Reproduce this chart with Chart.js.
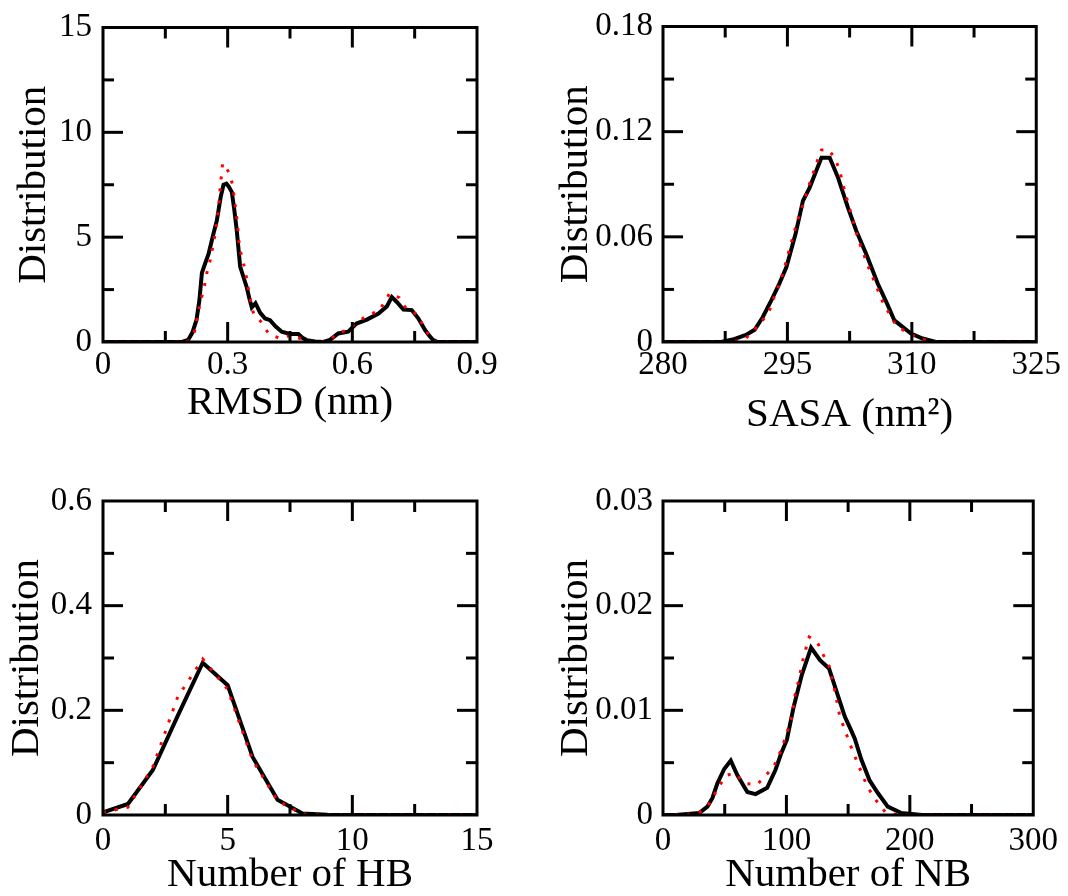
<!DOCTYPE html>
<html>
<head>
<meta charset="utf-8">
<script src="https://cdn.jsdelivr.net/npm/chart.js@4.4.1/dist/chart.umd.min.js"></script>
<style>
  body { margin: 0; background: #fff; }
  #wrap { position: relative; width: 1068px; height: 896px; background: #fff; }
  canvas { position: absolute; }
</style>
</head>
<body>
<div id="wrap">
  <canvas id="rmsdChart" width="534" height="448" style="left:0;top:0"></canvas>
  <canvas id="sasaChart" width="534" height="448" style="left:534px;top:0"></canvas>
  <canvas id="hbChart" width="534" height="448" style="left:0;top:448px"></canvas>
  <canvas id="nbChart" width="534" height="448" style="left:534px;top:448px"></canvas>
</div>
<script>
// RMSD (nm) distribution, black solid + red dotted
const rmsdBlackX = [0, 0.19, 0.205, 0.215, 0.225, 0.232, 0.238, 0.245, 0.254, 0.265, 0.274, 0.283, 0.29, 0.297, 0.303, 0.31, 0.316, 0.322, 0.33, 0.338, 0.346, 0.352, 0.358, 0.367, 0.378, 0.39, 0.402, 0.415, 0.43, 0.45, 0.47, 0.48, 0.49, 0.51, 0.53, 0.546, 0.566, 0.59, 0.61, 0.635, 0.663, 0.683, 0.695, 0.707, 0.723, 0.743, 0.759, 0.775, 0.787, 0.795, 0.805, 0.9];
const rmsdBlackY = [0, 0, 0.1, 0.45, 1.05, 2.0, 3.3, 3.7, 4.2, 5.1, 5.8, 6.9, 7.5, 7.55, 7.4, 7.15, 6.3, 5.3, 3.6, 3.1, 2.6, 2.1, 1.65, 1.85, 1.4, 1.12, 1.04, 0.75, 0.49, 0.38, 0.38, 0.2, 0.09, 0.02, 0, 0.1, 0.41, 0.49, 0.88, 1.07, 1.36, 1.7, 2.14, 1.91, 1.55, 1.52, 1.12, 0.57, 0.25, 0.09, 0, 0];
const rmsdRedX = [0, 0.2, 0.21, 0.219, 0.225, 0.232, 0.244, 0.25, 0.258, 0.27, 0.278, 0.282, 0.288, 0.296, 0.303, 0.312, 0.319, 0.323, 0.328, 0.334, 0.342, 0.347, 0.352, 0.358, 0.363, 0.382, 0.399, 0.426, 0.454, 0.48, 0.5, 0.54, 0.566, 0.586, 0.61, 0.636, 0.664, 0.69, 0.713, 0.731, 0.755, 0.771, 0.789, 0.8, 0.9];
const rmsdRedY = [0, 0, 0.1, 0.38, 1.0, 1.7, 2.67, 3.3, 3.9, 5.17, 6.36, 7.38, 8.53, 8.3, 8.09, 7.5, 6.36, 5.77, 4.59, 4.04, 3.44, 2.85, 2.27, 1.67, 1.31, 0.93, 0.38, 0.17, 0.33, 0.12, 0, 0, 0.46, 0.54, 0.9, 1.28, 1.47, 2.33, 2.11, 1.55, 1.33, 0.76, 0.17, 0, 0];

// SASA (nm^2) distribution
const sasaBlackX = [280, 287, 288.4, 290, 291.05, 292, 293.06, 294, 294.87, 296, 296.87, 297.68, 298.5, 299.1, 300.1, 301.1, 302.3, 303.3, 304.5, 305.9, 307.0, 307.9, 309.9, 311.3, 312.9, 325];
const sasaBlackY = [0, 0, 0.0014, 0.004, 0.007, 0.014, 0.0237, 0.033, 0.0426, 0.062, 0.0805, 0.0881, 0.098, 0.1051, 0.1051, 0.0938, 0.0767, 0.0635, 0.0502, 0.0332, 0.022, 0.0123, 0.0048, 0.002, 0, 0];
const sasaRedX = [280, 288, 289.85, 291.74, 292.86, 293.46, 294.06, 294.67, 295.18, 295.75, 296.39, 296.99, 297.47, 298.0, 298.48, 299.09, 299.8, 300.5, 301.2, 301.97, 302.8, 303.6, 304.7, 305.9, 306.5, 307.3, 308.1, 309.5, 310.9, 312.5, 325];
const sasaRedY = [0, 0, 0.0014, 0.0104, 0.0184, 0.0265, 0.0332, 0.0426, 0.052, 0.0616, 0.072, 0.0796, 0.0877, 0.0947, 0.1017, 0.1095, 0.11, 0.1065, 0.0995, 0.085, 0.071, 0.0578, 0.0436, 0.0297, 0.0227, 0.016, 0.0095, 0.0051, 0.0022, 0, 0];

// Number of hydrogen bonds
const hbX = [0, 1, 2, 3, 4, 5, 6, 7, 8, 9, 10, 11, 12, 13, 14, 15];
const hbBlackY = [0.005, 0.021, 0.086, 0.19, 0.291, 0.248, 0.111, 0.029, 0.003, 0.0005, 0, 0, 0, 0, 0, 0];
const hbRedY = [0.005, 0.015, 0.092, 0.226, 0.298, 0.24, 0.105, 0.027, 0.002, 0, 0, 0, 0, 0, 0, 0];

// Number of NB contacts
const nbBlackX = [0, 10, 20, 29.5, 36, 40, 44, 49.6, 54.9, 60.3, 68.3, 75, 84.4, 91.1, 95.5, 100.4, 105.8, 112.5, 120, 127.2, 134.5, 140.6, 147.3, 152, 155.4, 160.7, 167.4, 174.1, 182.1, 192.8, 210, 300];
const nbBlackY = [0, 0, 0.0001, 0.0002, 0.0008, 0.0016, 0.003, 0.0044, 0.0052, 0.0038, 0.0022, 0.002, 0.0026, 0.0043, 0.0058, 0.0072, 0.0103, 0.0134, 0.016, 0.0148, 0.014, 0.0118, 0.0094, 0.0082, 0.0073, 0.0053, 0.0033, 0.0021, 0.0008, 0.0002, 0, 0];
const nbRedX = [0, 25, 30, 37.5, 42.3, 46.1, 52, 57.6, 67, 76.3, 89.7, 96.4, 101.3, 104.5, 107.2, 109.8, 111.7, 113.9, 118.4, 125.1, 129.9, 134.7, 139.3, 143.3, 146.8, 154, 158, 162, 166.1, 172.7, 180, 190, 300];
const nbRedY = [0, 0.0001, 0.0003, 0.0011, 0.0021, 0.0029, 0.0038, 0.004, 0.003, 0.0029, 0.0046, 0.0064, 0.0082, 0.0094, 0.0116, 0.0128, 0.0139, 0.0151, 0.017, 0.0165, 0.0153, 0.0142, 0.0118, 0.0094, 0.0083, 0.006, 0.0049, 0.0037, 0.0026, 0.0014, 0.0003, 0, 0];

const serif = "'Liberation Serif', 'DejaVu Serif', serif";
Chart.defaults.font.family = serif;
Chart.defaults.color = "#000";

const toPoints = (xs, ys) => xs.map((x, i) => ({ x: x, y: ys[i] }));

// frame box + inward major/minor ticks on all four sides
const frameTicks = {
  id: "frameTicks",
  afterDatasetsDraw(chart, args, opts) {
    const { ctx, chartArea: a, scales } = chart;
    const line = (x1, y1, x2, y2) => {
      ctx.beginPath();
      ctx.moveTo(x1, y1);
      ctx.lineTo(x2, y2);
      ctx.stroke();
    };
    ctx.save();
    ctx.strokeStyle = "#000";
    ctx.lineWidth = 3;
    ctx.lineCap = "butt";
    const span = (s) => s.max - s.min;
    const nx = Math.round(span(scales.x) / (opts.xStep / 2));
    for (let i = 1; i < nx; i++) {
      const px = scales.x.getPixelForValue(scales.x.min + (i * opts.xStep) / 2);
      const len = i % 2 === 0 ? 20 : 11;
      line(px, a.bottom, px, a.bottom - len);
      line(px, a.top, px, a.top + len);
    }
    const ny = Math.round(span(scales.y) / (opts.yStep / 2));
    for (let i = 1; i < ny; i++) {
      const py = scales.y.getPixelForValue(scales.y.min + (i * opts.yStep) / 2);
      const len = i % 2 === 0 ? 20 : 11;
      line(a.left, py, a.left + len, py);
      line(a.right, py, a.right - len, py);
    }
    ctx.strokeRect(a.left, a.top, a.right - a.left, a.bottom - a.top);
    ctx.restore();
  },
};

const makePanel = (id, p) => {
  new Chart(document.getElementById(id), {
    type: "line",
    data: {
      datasets: [
        {
          data: toPoints(p.blackX, p.blackY),
          borderColor: "#000",
          borderWidth: 4,
          pointRadius: 0,
          order: 1,
        },
        {
          data: toPoints(p.redX, p.redY),
          borderColor: "#ff0000",
          borderWidth: 3,
          borderDash: [3, 9],
          pointRadius: 0,
          order: 0,
        },
      ],
    },
    options: {
      responsive: false,
      animation: false,
      layout: { padding: { top: p.top, right: p.right, bottom: 0, left: 0 } },
      scales: {
        x: {
          type: "linear",
          min: p.xMin,
          max: p.xMax,
          grid: { display: false, drawTicks: false },
          border: { display: false },
          ticks: {
            stepSize: p.xStep,
            maxRotation: 0,
            padding: p.xTickPad,
            font: { size: 33, lineHeight: 1 },
          },
          title: {
            display: true,
            text: p.xTitle,
            font: { size: 41, lineHeight: 1 },
            padding: { top: 0, bottom: p.xTitlePad },
          },
          afterFit: (s) => { s.height = p.xHeight; },
        },
        y: {
          min: p.yMin,
          max: p.yMax,
          grid: { display: false, drawTicks: false },
          border: { display: false },
          ticks: {
            stepSize: p.yStep,
            padding: p.yTickPad,
            font: { size: 33, lineHeight: 1 },
          },
          title: {
            display: true,
            text: "Distribution",
            font: { size: 41, lineHeight: 1 },
            padding: { top: p.yTitlePad, bottom: 0 },
          },
          afterFit: (s) => { s.width = p.yWidth; },
        },
      },
      plugins: {
        legend: { display: false },
        tooltip: { enabled: false },
        frameTicks: { xStep: p.xStep, yStep: p.yStep },
      },
    },
    plugins: [frameTicks],
  });
};

makePanel("rmsdChart", {
  blackX: rmsdBlackX, blackY: rmsdBlackY, redX: rmsdRedX, redY: rmsdRedY,
  xMin: 0, xMax: 0.9, xStep: 0.3, yMin: 0, yMax: 15, yStep: 5,
  xTitle: "RMSD (nm)", top: 25, right: 57, xHeight: 106, yWidth: 103,
  xTickPad: 7, yTickPad: 11, xTitlePad: 24, yTitlePad: 14,
});
makePanel("sasaChart", {
  blackX: sasaBlackX, blackY: sasaBlackY, redX: sasaRedX, redY: sasaRedY,
  xMin: 280, xMax: 325, xStep: 15, yMin: 0, yMax: 0.18, yStep: 0.06,
  xTitle: "SASA (nm²)", top: 25, right: 31, xHeight: 106, yWidth: 129,
  xTickPad: 7, yTickPad: 10, xTitlePad: 12, yTitlePad: 22,
});
makePanel("hbChart", {
  blackX: hbX, blackY: hbBlackY, redX: hbX, redY: hbRedY,
  xMin: 0, xMax: 15, xStep: 5, yMin: 0, yMax: 0.6, yStep: 0.2,
  xTitle: "Number of HB", top: 53, right: 57, xHeight: 81, yWidth: 103,
  xTickPad: 10, yTickPad: 11, xTitlePad: 0, yTitlePad: 7,
});
makePanel("nbChart", {
  blackX: nbBlackX, blackY: nbBlackY, redX: nbRedX, redY: nbRedY,
  xMin: 0, xMax: 300, xStep: 100, yMin: 0, yMax: 0.03, yStep: 0.01,
  xTitle: "Number of NB", top: 53, right: 31, xHeight: 81, yWidth: 129,
  xTickPad: 10, yTickPad: 10, xTitlePad: 0, yTitlePad: 22,
});
</script>
</body>
</html>
